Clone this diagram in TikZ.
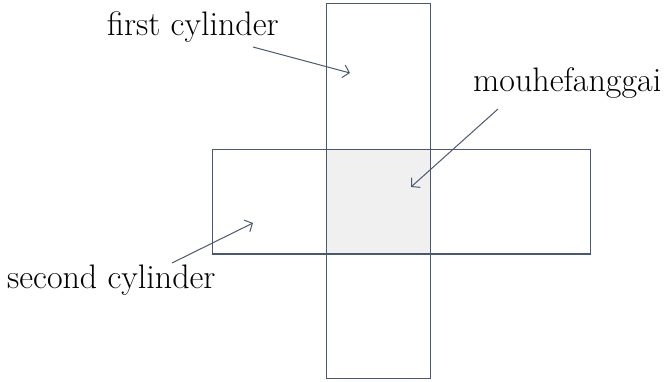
\documentclass[tikz,border=0pt]{standalone}
\usetikzlibrary{arrows.meta}
\definecolor{cylline}{RGB}{75,88,112}
\definecolor{overlapfill}{RGB}{240,240,240}
\begin{document}
\begin{tikzpicture}[x=1pt, y=-1pt,
  cyl/.style={rectangle, draw=cylline, line width=1pt, inner sep=0pt, outer sep=0pt},
  lab/.style={anchor=base west, inner sep=0pt, font=\fontsize{34}{40}\selectfont},
  pt/.style={cylline, line width=1pt, -{Straight Barb[length=6pt, width=13pt, line width=1pt]}}]
\useasboundingbox (0,0) rectangle (664,382);
\fill[overlapfill] (326,150) rectangle (430,254);
\node[cyl, minimum width=104pt, minimum height=374pt] (firstcyl) at (378,191) {};
\node[cyl, minimum width=378pt, minimum height=104pt] (secondcyl) at (401,202) {};
\node[lab] (firstlab) at (107,36) {first cylinder};
\node[lab] (mhfglab) at (473,92) {mouhefanggai};
\node[lab] (secondlab) at (7,288) {second cylinder};
\coordinate (a1) at (253,47);
\coordinate (b1) at (350,73);
\coordinate (a2) at (498,109);
\coordinate (b2) at (411,187);
\coordinate (a3) at (172,263);
\coordinate (b3) at (253,223);
\draw[pt] (a1) -- (b1);
\draw[pt] (a2) -- (b2);
\draw[pt] (a3) -- (b3);
\end{tikzpicture}
\end{document}
